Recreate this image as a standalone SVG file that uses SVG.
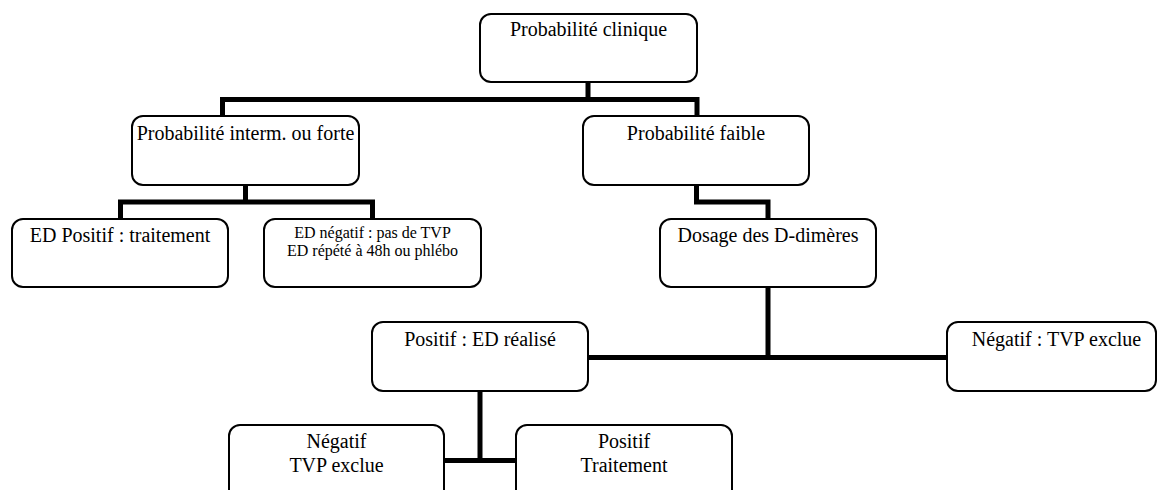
<svg xmlns="http://www.w3.org/2000/svg" width="1158" height="490" viewBox="0 0 1158 490">
<style>
.box{fill:#fff;stroke:#000;stroke-width:2}
text{font-family:'Liberation Serif','DejaVu Serif','Times New Roman',Times,serif;font-size:20px;fill:#000;text-anchor:middle}
.sm{font-size:16px}
.con{fill:none;stroke:#000;stroke-width:5;stroke-linejoin:miter;stroke-linecap:butt}
</style>
<rect width="1158" height="490" fill="#fff"/>
<g id="connectors">
<path class="con" d="M588,82 V99.5 M222.5,116 V99.5 H697 V116"/>
<path class="con" d="M245.5,185 V202 M120.5,219 V202 H372.5 V219"/>
<path class="con" d="M696.5,185 V202 H768 V219"/>
<path class="con" d="M768,287 V357.5 M588,357.5 H947"/>
<path class="con" d="M480,391 V460.5 M444,460.5 H516"/>
</g>
<g id="n1"><rect class="box" x="480" y="14" width="217" height="68" rx="11"/><text font-family="Liberation Serif, serif" x="588.5" y="36">Probabilité clinique</text></g>
<g id="n2"><rect class="box" x="132" y="116" width="227" height="69" rx="11"/><text font-family="Liberation Serif, serif" x="245.5" y="140">Probabilité interm. ou forte</text></g>
<g id="n3"><rect class="box" x="583" y="116" width="226" height="69" rx="11"/><text font-family="Liberation Serif, serif" x="696" y="140">Probabilité faible</text></g>
<g id="n4"><rect class="box" x="12" y="219" width="216" height="68" rx="11"/><text font-family="Liberation Serif, serif" x="120" y="241.5">ED Positif : traitement</text></g>
<g id="n5"><rect class="box" x="264" y="219" width="217" height="68" rx="11"/><text class="sm" font-family="Liberation Serif, serif" x="372.5" y="237.5">ED négatif : pas de TVP</text><text class="sm" font-family="Liberation Serif, serif" x="372.5" y="256">ED répété à 48h ou phlébo</text></g>
<g id="n6"><rect class="box" x="660" y="219" width="216" height="68" rx="11"/><text font-family="Liberation Serif, serif" x="768" y="241.5">Dosage des D-dimères</text></g>
<g id="n7"><rect class="box" x="372" y="322" width="216" height="69" rx="11"/><text font-family="Liberation Serif, serif" x="480" y="345.5">Positif : ED réalisé</text></g>
<g id="n8"><rect class="box" x="947" y="322" width="209" height="69" rx="11"/><text font-family="Liberation Serif, serif" x="1056.5" y="345.5">Négatif : TVP exclue</text></g>
<g id="n9"><rect class="box" x="229" y="425" width="215" height="80" rx="11"/><text font-family="Liberation Serif, serif" x="336.5" y="448">Négatif</text><text font-family="Liberation Serif, serif" x="336.5" y="472">TVP exclue</text></g>
<g id="n10"><rect class="box" x="516" y="425" width="216" height="80" rx="11"/><text font-family="Liberation Serif, serif" x="624" y="448">Positif</text><text font-family="Liberation Serif, serif" x="624" y="472">Traitement</text></g>
</svg>
